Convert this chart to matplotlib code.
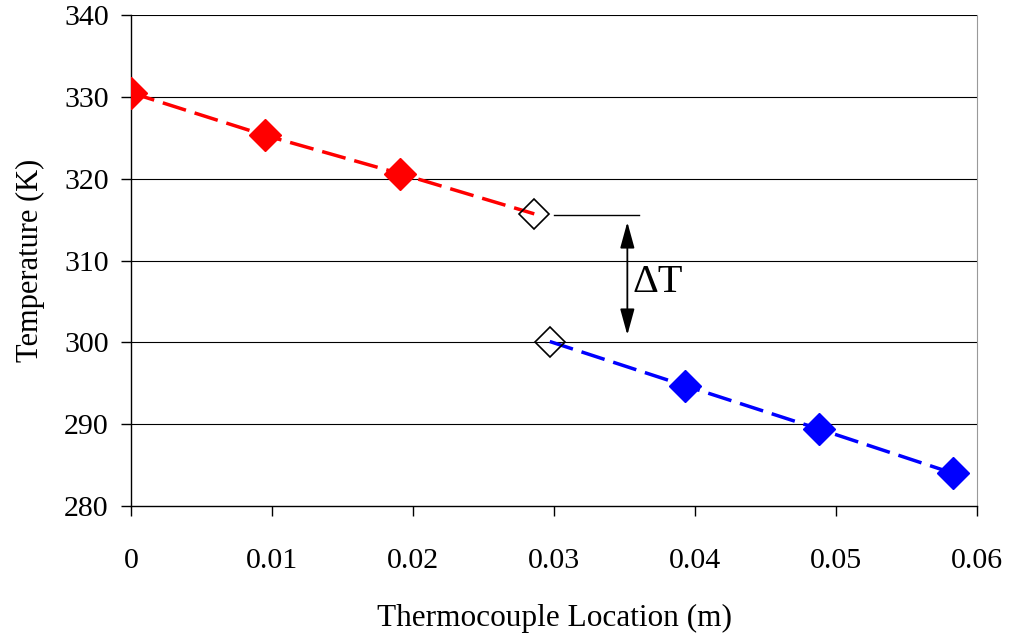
import matplotlib.pyplot as plt

plt.rcParams["font.family"] = ["Liberation Serif", "DejaVu Serif"]

# hot side (red) and cold side (blue) thermocouple readings
hot_x = [0.0, 0.0095, 0.0191]
hot_t = [330.5, 325.3, 320.6]
hot_surface_x = 0.0286
hot_surface_t = 315.7

cold_x = [0.0393, 0.0488, 0.0583]
cold_t = [294.7, 289.4, 284.0]
cold_surface_x = 0.0297
cold_surface_t = 300.1

x_ticks = [0, 0.01, 0.02, 0.03, 0.04, 0.05, 0.06]
x_tick_labels = ["0", "0.01", "0.02", "0.03", "0.04", "0.05", "0.06"]
y_ticks = [280, 290, 300, 310, 320, 330, 340]


def main() -> None:
    fig = plt.figure(figsize=(10.11, 6.36), dpi=100)
    ax = fig.add_axes([0.1296, 0.2044, 0.8368, 0.772])

    for y in y_ticks[1:]:
        ax.axhline(y, color="black", lw=0.8, zorder=1)

    dash = (0, (7.0, 2.6))
    ax.plot(hot_x + [hot_surface_x], hot_t + [hot_surface_t],
            color="red", lw=2.5, linestyle=dash, zorder=2)
    ax.plot([cold_surface_x] + cold_x, [cold_surface_t] + cold_t,
            color="blue", lw=2.5, linestyle=dash, zorder=2)

    ax.plot(hot_x, hot_t, "D", color="red", ms=16, mec="red", zorder=3)
    ax.plot(cold_x, cold_t, "D", color="blue", ms=16, mec="blue", zorder=3)
    ax.plot([hot_surface_x, cold_surface_x], [hot_surface_t, cold_surface_t],
            "D", ms=15, mfc="none", mec="black", mew=1.2, zorder=3)

    # delta T annotation
    ax.plot([0.03, 0.036], [315.5, 315.5], color="black", lw=1.0, zorder=2)
    ax.annotate("", xy=(0.0352, 314.7), xytext=(0.0352, 300.9),
                arrowprops=dict(arrowstyle="<|-|>,head_length=0.8,head_width=0.22",
                                color="black", lw=1.3,
                                mutation_scale=20, shrinkA=0, shrinkB=0))
    ax.text(0.0356, 307.3, "\u0394T", fontsize=29, va="center", ha="left")

    ax.set_xlim(0, 0.06)
    ax.set_ylim(280, 340)
    ax.set_xticks(x_ticks)
    ax.set_xticklabels(x_tick_labels)
    ax.set_yticks(y_ticks)
    ax.tick_params(labelsize=21.5, direction="out", length=7, width=1)
    ax.tick_params(axis="x", pad=23)
    ax.tick_params(axis="y", pad=9)

    ax.spines["top"].set_visible(False)
    ax.spines["right"].set_color("#999999")
    ax.spines["left"].set_linewidth(1.0)
    ax.spines["bottom"].set_linewidth(1.0)

    ax.set_xlabel("Thermocouple Location (m)", fontsize=22.5, labelpad=22)
    ax.set_ylabel("Temperature (K)", fontsize=22, labelpad=14)

    fig.savefig("out.png", dpi=100)


if __name__ == "__main__":
    main()
